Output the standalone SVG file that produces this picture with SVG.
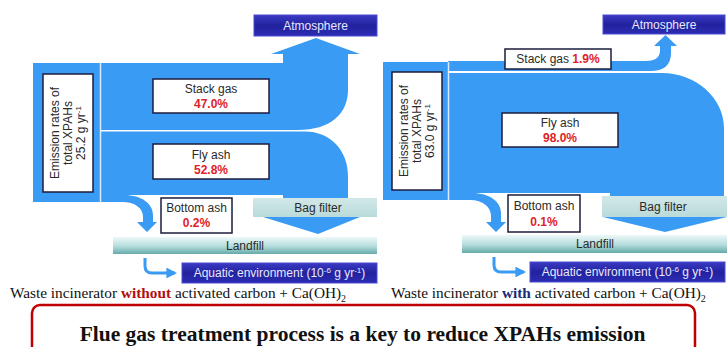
<svg xmlns="http://www.w3.org/2000/svg" width="727" height="347" viewBox="0 0 727 347">
<style>
.flow{fill:#3a9bf4}
.sep{stroke:#d8ecff;stroke-width:1.5;fill:none}
.lbl{fill:#fff;stroke:#1c1c3c;stroke-width:1.5}
.t{font-family:"Liberation Sans",Arial,sans-serif;font-size:12px;fill:#2a2a2a;text-anchor:middle}
.pct{font-family:"Liberation Sans",Arial,sans-serif;font-size:12px;font-weight:bold;fill:#e02228;text-anchor:middle}
.wt{font-family:"Liberation Sans",Arial,sans-serif;font-size:12px;fill:#e8e8ff;text-anchor:middle}
.cap{font-family:"Liberation Serif","Times New Roman",serif;font-size:15.3px;fill:#111}
.thin{fill:none;stroke:#3a9bf4;stroke-width:3}
</style>
<defs>
<linearGradient id="navy" x1="0" y1="0" x2="0" y2="1">
<stop offset="0" stop-color="#3a3ac4"/><stop offset="0.5" stop-color="#22229e"/><stop offset="1" stop-color="#2c2cb4"/>
</linearGradient>
<linearGradient id="teal" x1="0" y1="0" x2="0" y2="1">
<stop offset="0" stop-color="#eef8f8"/><stop offset="0.55" stop-color="#b4dcdc"/><stop offset="1" stop-color="#66aaaa"/>
</linearGradient>
<linearGradient id="bag" x1="0" y1="0" x2="0" y2="1">
<stop offset="0" stop-color="#d2e8e8"/><stop offset="1" stop-color="#b9dada"/>
</linearGradient>
<marker id="ah" viewBox="0 0 10 10" refX="8" refY="5" markerWidth="3.6" markerHeight="3.6" orient="auto">
<path d="M0,0 L10,5 L0,10 Z" fill="#3a9bf4"/>
</marker>
</defs>
<rect width="727" height="347" fill="#fff"/>

<g id="connectors">
<!-- left panel flows -->
<rect class="flow" x="33" y="63" width="67" height="139"/>
<path class="flow" d="M100,63 H283 V54 H271 L316,38 L360,54 H348 V90 C348,114 330,130 298,130 H100 Z"/>
<path class="flow" d="M100,131.5 H305 C330,131.5 348,150 348,176 V217 H360 L318,234 L263,217 H283 V195 H100 Z"/>
<path class="flow" d="M100,195 H124 C142,195 153,204 153,215 V222 H157 L147,232 L137,222 H143 V217 C143,208 135,202 122,202 H100 Z"/>
<line class="sep" x1="100.5" y1="63" x2="100.5" y2="202"/>
<path class="thin" d="M145,258 V266 Q145,273 152,273 H175" marker-end="url(#ah)"/>
<!-- right panel flows -->
<rect class="flow" x="383" y="62" width="65" height="138"/>
<path class="flow" d="M448,61 H646 Q660,61 660,50 V46 H654 L665.5,35 L677,46 H671 V53 Q671,71 650,71 H448 Z"/>
<path class="flow" d="M448,73 H662 C696,73 724,98 724,128 V217 H727 L665,232 L603,217 H610 V193 H448 Z"/>
<path class="flow" d="M448,193 H472 C490,193 501,202 501,213 V222 H506 L496,232 L486,222 H491 V216 C491,207 483,200 470,200 H448 Z"/>
<line class="sep" x1="448.5" y1="62" x2="448.5" y2="200"/>
<path class="thin" d="M494,257 V265 Q494,272 501,272 H524" marker-end="url(#ah)"/>
</g>

<!-- left panel nodes -->
<g id="atmosphere-left">
<rect x="254" y="15" width="123" height="21" fill="url(#navy)" stroke="#4a4ad0" stroke-width="1"/>
<text class="wt" x="315.5" y="30">Atmosphere</text>
</g>
<g id="emission-left">
<rect class="lbl" x="43" y="74" width="50" height="118"/>
<text class="t" transform="translate(68,133) rotate(-90)"><tspan x="0" y="-9">Emission rates of</tspan><tspan x="0" y="4">total XPAHs</tspan><tspan x="0" y="17">25.2 g yr<tspan font-size="8" dy="-4">-1</tspan></tspan></text>
</g>
<g id="stack-gas-left">
<rect class="lbl" x="153" y="79" width="116" height="34"/>
<text class="t" x="211" y="93">Stack gas</text>
<text class="pct" x="211" y="108">47.0%</text>
</g>
<g id="fly-ash-left">
<rect class="lbl" x="153" y="144" width="116" height="35"/>
<text class="t" x="211" y="159">Fly ash</text>
<text class="pct" x="211" y="174">52.8%</text>
</g>
<g id="bag-filter-left">
<rect x="253" y="198" width="124" height="19" fill="url(#bag)"/>
<text class="t" x="318" y="212" fill="#444">Bag filter</text>
</g>
<g id="bottom-ash-left">
<rect class="lbl" x="161" y="198" width="71" height="35"/>
<text class="t" x="196.5" y="212">Bottom ash</text>
<text class="pct" x="196.5" y="227">0.2%</text>
</g>
<g id="landfill-left">
<rect x="113" y="237" width="264" height="17" fill="url(#teal)"/>
<text class="t" x="245" y="250" fill="#333">Landfill</text>
</g>
<g id="aquatic-left">
<rect x="182" y="263" width="195" height="20" fill="url(#navy)" stroke="#4a4ad0" stroke-width="1"/>
<text class="wt" x="279.5" y="277">Aquatic environment (10<tspan font-size="8" dy="-4">-6</tspan><tspan dy="4"> g yr</tspan><tspan font-size="8" dy="-4">-1</tspan><tspan dy="4">)</tspan></text>
</g>

<!-- right panel nodes -->
<g id="atmosphere-right">
<rect x="603" y="15" width="122" height="19" fill="url(#navy)" stroke="#4a4ad0" stroke-width="1"/>
<text class="wt" x="664" y="29">Atmosphere</text>
</g>
<g id="emission-right">
<rect class="lbl" x="392" y="72" width="50" height="118"/>
<text class="t" transform="translate(417,131) rotate(-90)"><tspan x="0" y="-9">Emission rates of</tspan><tspan x="0" y="4">total XPAHs</tspan><tspan x="0" y="17">63.0 g yr<tspan font-size="8" dy="-4">-1</tspan></tspan></text>
</g>
<g id="stack-gas-right">
<rect class="lbl" x="505" y="49" width="106" height="20"/>
<text class="t" x="558" y="63">Stack gas <tspan font-weight="bold" fill="#e02228">1.9%</tspan></text>
</g>
<g id="fly-ash-right">
<rect class="lbl" x="502" y="113" width="116" height="34"/>
<text class="t" x="560" y="127">Fly ash</text>
<text class="pct" x="560" y="142">98.0%</text>
</g>
<g id="bag-filter-right">
<rect x="602" y="196" width="125" height="21" fill="url(#bag)"/>
<text class="t" x="663" y="211" fill="#444">Bag filter</text>
</g>
<g id="bottom-ash-right">
<rect class="lbl" x="508" y="195" width="72" height="37"/>
<text class="t" x="544" y="210">Bottom ash</text>
<text class="pct" x="544" y="226">0.1%</text>
</g>
<g id="landfill-right">
<rect x="462" y="235" width="265" height="18" fill="url(#teal)"/>
<text class="t" x="595" y="248" fill="#333">Landfill</text>
</g>
<g id="aquatic-right">
<rect x="530" y="262" width="195" height="20" fill="url(#navy)" stroke="#4a4ad0" stroke-width="1"/>
<text class="wt" x="627.5" y="276">Aquatic environment (10<tspan font-size="8" dy="-4">-6</tspan><tspan dy="4"> g yr</tspan><tspan font-size="8" dy="-4">-1</tspan><tspan dy="4">)</tspan></text>
</g>

<!-- captions -->
<g id="captions">
<text class="cap" x="10" y="298">Waste incinerator <tspan font-weight="bold" fill="#b01010">without</tspan> activated carbon + Ca(OH)<tspan font-size="10" dy="4">2</tspan></text>
<text class="cap" x="391" y="298">Waste incinerator <tspan font-weight="bold" fill="#1c2a78">with</tspan> activated carbon + Ca(OH)<tspan font-size="10" dy="4">2</tspan></text>
</g>
<g id="conclusion">
<rect x="32" y="305" width="663" height="62" rx="8" fill="#fff" stroke="#c00000" stroke-width="2.5"/>
<text x="362.5" y="341" font-family="'Liberation Serif','Times New Roman',serif" font-size="21.5" font-weight="bold" fill="#111" text-anchor="middle">Flue gas treatment process is a key to reduce XPAHs emission</text>
</g>
</svg>
